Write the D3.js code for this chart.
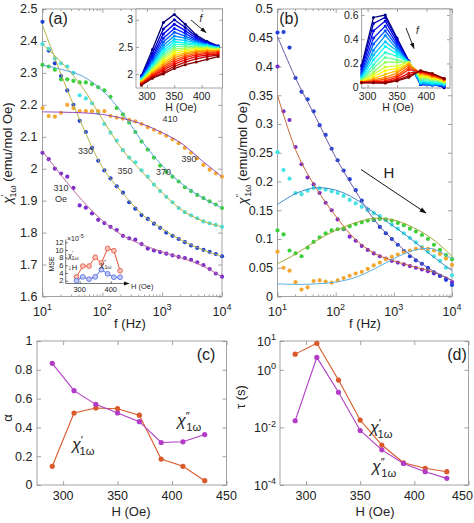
<!DOCTYPE html>
<html><head><meta charset="utf-8">
<script src="https://cdn.jsdelivr.net/npm/d3@7/dist/d3.min.js"></script>
<style>html,body{margin:0;padding:0;background:#fff}svg{display:block}</style>
</head><body>
<script>
// ================= DATA =================
const freqs = [10,12.7,16.1,20.4,25.9,32.9,41.8,53,67.2,85.3,108,137,174,221,281,356,452,574,728,924,1172,1487,1888,2395,3039,3857,4894,6210,7880,10000];
const fitFreqs = [10,21.5,46.4,100,215,464,1000,2154,4642,10000];
const seriesColors = ["#7a2ccc","#2040d8","#44e2e2","#3ccf3c","#f2a830"];

// panel (a): chi' vs f for H = 310,330,350,370,390 Oe
const re310 = [2.05,2.03,2.0,1.985,1.975,1.94,1.885,1.878,1.86,1.84,1.83,1.818,1.808,1.79,1.782,1.778,1.764,1.75,1.744,1.739,1.734,1.729,1.724,1.72,1.715,1.707,1.698,1.686,1.672,1.662];
const re330 = [2.46,2.37,2.33,2.29,2.245,2.2,2.15,2.115,2.065,2.025,1.995,1.97,1.945,1.925,1.895,1.875,1.855,1.843,1.828,1.815,1.8,1.79,1.78,1.77,1.76,1.752,1.746,1.74,1.733,1.726];
const re350 = [2.39,2.375,2.345,2.33,2.32,2.3,2.23,2.22,2.205,2.175,2.14,2.113,2.088,2.058,2.035,2.02,1.995,1.975,1.95,1.93,1.912,1.895,1.877,1.864,1.854,1.845,1.835,1.829,1.824,1.818];
const re370 = [2.325,2.32,2.31,2.28,2.28,2.275,2.27,2.27,2.265,2.255,2.245,2.225,2.19,2.17,2.145,2.115,2.085,2.06,2.035,2.01,1.99,1.975,1.96,1.942,1.93,1.918,1.908,1.898,1.888,1.877];
const re390 = [2.19,2.165,2.163,2.175,2.2,2.19,2.18,2.18,2.18,2.18,2.18,2.165,2.16,2.157,2.153,2.148,2.14,2.13,2.122,2.113,2.103,2.092,2.08,2.065,2.05,2.033,2.012,1.997,1.985,1.975];
const fitRe310 = [2.055,1.975,1.9,1.838,1.792,1.762,1.74,1.72,1.697,1.661];
const fitRe330 = [2.45,2.285,2.135,2.005,1.925,1.857,1.812,1.775,1.747,1.726];
const fitRe350 = [2.39,2.33,2.255,2.155,2.06,1.99,1.925,1.87,1.837,1.818];
const fitRe370 = [2.325,2.31,2.29,2.245,2.175,2.085,2.01,1.952,1.91,1.877];
const fitRe390 = [2.178,2.177,2.175,2.17,2.158,2.14,2.113,2.078,2.025,1.975];
const fitReColors = ["#b8679f","#b3b446","#b3b446","#58a9dc","#9a4cc0"];

// panel (b): chi'' vs f
const im310 = [0.40,0.322,0.307,0.26,0.23,0.207,0.195,0.18,0.163,0.15,0.134,0.117,0.104,0.097,0.088,0.081,0.075,0.07,0.066,0.062,0.059,0.056,0.053,0.05,0.047,0.044,0.04,0.036,0.031,0.025];
const im330 = [0.459,0.46,0.433,0.38,0.356,0.343,0.322,0.298,0.281,0.257,0.237,0.219,0.204,0.185,0.167,0.151,0.133,0.121,0.11,0.1,0.09,0.079,0.07,0.063,0.057,0.05,0.042,0.036,0.029,0.02];
const im350 = [0.251,0.22,0.205,0.18,0.178,0.184,0.189,0.188,0.186,0.183,0.18,0.175,0.168,0.162,0.156,0.15,0.145,0.14,0.133,0.125,0.118,0.11,0.102,0.094,0.086,0.078,0.07,0.062,0.05,0.037];
const im370 = [0.115,0.108,0.08,0.075,0.07,0.085,0.095,0.103,0.11,0.115,0.117,0.118,0.122,0.126,0.129,0.132,0.134,0.135,0.134,0.132,0.128,0.124,0.118,0.113,0.107,0.1,0.09,0.081,0.072,0.065];
const im390 = [0.078,0.05,0.045,0.025,0.012,0.016,0.027,0.028,0.026,0.024,0.028,0.032,0.036,0.04,0.043,0.048,0.054,0.059,0.065,0.069,0.073,0.077,0.08,0.083,0.084,0.083,0.08,0.074,0.066,0.055];
const fitIm310 = [0.35,0.25,0.188,0.14,0.1,0.075,0.062,0.052,0.043,0.028];
const fitIm330 = [0.452,0.375,0.31,0.242,0.185,0.133,0.097,0.068,0.045,0.028];
const fitIm350 = [0.16,0.18,0.189,0.185,0.17,0.145,0.122,0.097,0.07,0.045];
const fitIm370 = [0.057,0.075,0.097,0.115,0.128,0.136,0.133,0.12,0.1,0.07];
const fitIm390 = [0.022,0.021,0.022,0.025,0.033,0.048,0.066,0.08,0.083,0.065];
const fitImColors = ["#c8683a","#6a5aa8","#3a8cc8","#a0a838","#5ab0e8"];

// insets: chi vs H, one value per frequency line (low f -> high f)
const insetH = [290,310,330,350,370,390,410,430];
const insRe290 = [1.97,1.96,1.95,1.94,1.93,1.92,1.91,1.90,1.89,1.88,1.87,1.86,1.855,1.85,1.84,1.83,1.82,1.81,1.80,1.79];
const insRe310 = [2.45,2.38,2.32,2.28,2.24,2.21,2.18,2.15,2.13,2.11,2.09,2.07,2.05,2.03,2.01,1.99,1.97,1.95,1.935,1.92];
const insRe330 = [2.95,2.83,2.74,2.66,2.59,2.53,2.48,2.43,2.39,2.35,2.31,2.27,2.23,2.2,2.16,2.13,2.1,2.07,2.03,2.0];
const insRe350 = [3.1,3.0,2.92,2.84,2.77,2.7,2.64,2.59,2.54,2.5,2.46,2.42,2.38,2.34,2.3,2.26,2.22,2.18,2.14,2.1];
const insRe370 = [2.92,2.86,2.8,2.75,2.7,2.66,2.62,2.58,2.55,2.52,2.48,2.45,2.42,2.39,2.36,2.33,2.3,2.26,2.22,2.17];
const insRe390 = [2.72,2.69,2.66,2.63,2.61,2.59,2.57,2.55,2.53,2.51,2.49,2.47,2.45,2.43,2.41,2.38,2.35,2.32,2.28,2.22];
const insRe410 = [2.6,2.58,2.57,2.56,2.55,2.54,2.53,2.52,2.51,2.5,2.48,2.47,2.45,2.44,2.42,2.4,2.38,2.35,2.32,2.27];
const insRe430 = [2.52,2.51,2.51,2.5,2.5,2.49,2.49,2.48,2.47,2.47,2.46,2.45,2.44,2.43,2.42,2.41,2.39,2.37,2.35,2.32];
const insIm290 = [0.185,0.17,0.15,0.13,0.115,0.1,0.09,0.08,0.07,0.065,0.06,0.055,0.05,0.048,0.046,0.045,0.044,0.043,0.042,0.04];
const insIm310 = [0.58,0.53,0.47,0.41,0.36,0.31,0.27,0.23,0.19,0.16,0.13,0.11,0.09,0.075,0.065,0.055,0.05,0.045,0.042,0.04];
const insIm330 = [0.6,0.58,0.55,0.51,0.47,0.43,0.38,0.34,0.29,0.25,0.21,0.17,0.14,0.11,0.085,0.07,0.055,0.045,0.04,0.038];
const insIm350 = [0.41,0.4,0.38,0.36,0.34,0.32,0.3,0.28,0.26,0.23,0.21,0.18,0.16,0.14,0.12,0.1,0.085,0.07,0.06,0.055];
const insIm370 = [0.22,0.22,0.21,0.21,0.21,0.21,0.21,0.21,0.21,0.21,0.21,0.21,0.2,0.2,0.19,0.17,0.15,0.12,0.1,0.085];
const insIm390 = [0.045,0.03,0.025,0.025,0.03,0.035,0.04,0.05,0.06,0.07,0.08,0.09,0.1,0.11,0.12,0.125,0.13,0.135,0.14,0.14];
const insIm410 = [0.04,0.03,0.025,0.02,0.02,0.025,0.03,0.04,0.05,0.06,0.07,0.075,0.08,0.09,0.095,0.1,0.105,0.11,0.115,0.116];
const insIm430 = [0.0,0.005,0.01,0.012,0.015,0.02,0.025,0.03,0.035,0.04,0.045,0.05,0.055,0.06,0.065,0.07,0.072,0.074,0.075,0.075];

// MSE inset
const mseRe = [3.0,5.8,5.8,8.1,6.6,10.4,9.8,4.6];
const mseIm = [2.0,3.0,2.4,3.0,4.9,3.8,2.9,2.9];

// panels (c), (d)
const fieldsH = [290,310,330,350,370,390,410,430];
const alphaRe = [0.13,0.5,0.535,0.53,0.485,0.18,0.13,0.03];
const alphaIm = [0.845,0.655,0.56,0.5,0.44,0.295,0.3,0.35];
const tauRe = [3.5,8.3,0.44,0.018,0.00245,0.00059,0.00038,0.00029];
const tauIm = [0.017,2.7,0.166,0.0078,0.00166,0.00056,0.00029,0.00017];
const colRe = "#d9592a", colIm = "#b23cc6";

// tick labels
const aTicks = [1.6,1.7,1.8,1.9,2,2.1,2.2,2.3,2.4,2.5];
const aTickLabels = ["1.6","1.7","1.8","1.9","2","2.1","2.2","2.3","2.4","2.5"];
const bTicks = [0,0.05,0.1,0.15,0.2,0.25,0.3,0.35,0.4,0.45,0.5];
const bTickLabels = ["0","0.05","0.1","0.15","0.2","0.25","0.3","0.35","0.4","0.45","0.5"];
const fTicks = [10,100,1000,10000], fExps = ["1","2","3","4"];
const hTicks = [300,350,400,450], hTickLabels = ["300","350","400","450"];
const cTicks = [0,0.2,0.4,0.6,0.8,1], cTickLabels = ["0","0.2","0.4","0.6","0.8","1"];
const dTicks = [1e-4,1e-2,1,10], dExps = ["-4","-2","0","1"];
const insHTicks = [300,350,400], insHLabels = ["300","350","400"];
const insATicks = [2,2.5,3], insALabels = ["2","2.5","3"];
const insBTicks = [0,0.2,0.4,0.6], insBLabels = ["0","0.2","0.4","0.6"];
const mseTicks = [2,4,6,8,10,12], mseTickLabels = ["2","4","6","8","10","12"];
const mseHTicks = [300,400], mseHLabels = ["300","400"];

// ================= DRAWING =================
const svg = d3.select("body").append("svg").attr("width",474).attr("height",523)
  .attr("font-family","'Liberation Sans', Arial, Helvetica, sans-serif");
const AX = "#8c8c8c", TX = "#222";
const defs = svg.append("defs");
defs.append("marker").attr("id","ah").attr("viewBox","0 0 10 10").attr("refX",9).attr("refY",5)
  .attr("markerWidth",7).attr("markerHeight",7).attr("orient","auto")
  .append("path").attr("d","M0,1.5 L10,5 L0,8.5 z").attr("fill","#111");

function frame(x, y, o) {
  const g = svg.append("g");
  const [x0,x1] = x.range(), [y0,y1] = y.range();
  const tl = o.tl || 4;
  if (o.bg) g.append("rect").attr("x",x0).attr("y",y1).attr("width",x1-x0).attr("height",y0-y1).attr("fill","#fff");
  const put = (axis, tr) => g.append("g").attr("transform", tr).call(axis).call(s => {
    s.select(".domain").remove();
    s.selectAll(".tick text").remove();
    s.selectAll(".tick line").attr("stroke", AX).attr("stroke-width", 0.8);
  });
  put(d3.axisBottom(x).tickValues(o.xt).tickSize(-tl), `translate(0,${y0})`);
  put(d3.axisTop(x).tickValues(o.xt).tickSize(-tl), `translate(0,${y1})`);
  put(d3.axisLeft(y).tickValues(o.yt).tickSize(-tl), `translate(${x0},0)`);
  put(d3.axisRight(y).tickValues(o.yt).tickSize(-tl), `translate(${x1},0)`);
  if (o.xm) {
    put(d3.axisBottom(x).tickValues(o.xm).tickSize(-tl/2), `translate(0,${y0})`);
    put(d3.axisTop(x).tickValues(o.xm).tickSize(-tl/2), `translate(0,${y1})`);
  }
  g.append("rect").attr("x",x0).attr("y",y1).attr("width",x1-x0).attr("height",y0-y1)
    .attr("fill","none").attr("stroke",AX).attr("stroke-width",0.8);
}
function yLabels(y, vals, labels, x, size) {
  svg.append("g").selectAll("text").data(vals).join("text")
    .attr("x", x).attr("y", d => y(d)).attr("dy","0.35em").attr("text-anchor","end")
    .attr("font-size", size).attr("fill", TX).text((d,i) => labels[i]);
}
function xLabels(x, vals, labels, yb, size) {
  svg.append("g").selectAll("text").data(vals).join("text")
    .attr("x", d => Math.min(x(d), 462.5)).attr("y", yb).attr("text-anchor","middle")
    .attr("font-size", size).attr("fill", TX).text((d,i) => labels[i]);
}
function powText(t, e, size) {
  t.append("tspan").text("10");
  t.append("tspan").attr("font-size", size*0.72).attr("dy", -size*0.45).text(e);
}
function xPow(x, vals, exps, yb, size) {
  vals.forEach((v,i) => {
    const t = svg.append("text").attr("x", x(v)).attr("y", yb).attr("text-anchor","middle")
      .attr("font-size", size).attr("fill", TX);
    powText(t, exps[i], size);
  });
}
function yPow(y, vals, exps, xr, size) {
  vals.forEach((v,i) => {
    const t = svg.append("text").attr("x", xr).attr("y", y(v) + size*0.38).attr("text-anchor","end")
      .attr("font-size", size).attr("fill", TX);
    powText(t, exps[i], size);
  });
}
function chi(t, primes, size, tail) {
  const s = size*0.7;
  t.append("tspan").attr("font-style","italic").text("χ");
  t.append("tspan").attr("font-size", s).attr("dy", -size*0.38).text(primes);
  t.append("tspan").attr("font-size", s).attr("dx", -s*0.3*primes.length).attr("dy", size*0.68).text("1ω");
  if (tail) t.append("tspan").attr("dy", -size*0.3).text(tail);
}
function dots(x, y, xs, ys, color, r) {
  svg.append("g").selectAll("circle").data(xs.map((v,i) => [v, ys[i]])).join("circle")
    .attr("cx", d => x(d[0])).attr("cy", d => y(d[1])).attr("r", r).attr("fill", color);
}
function path(x, y, xs, ys, color, w, curve) {
  svg.append("path").datum(xs.map((v,i) => [v, ys[i]]))
    .attr("d", d3.line().x(d => x(d[0])).y(d => y(d[1])).curve(curve || d3.curveLinear))
    .attr("fill","none").attr("stroke", color).attr("stroke-width", w);
}
function txt(x, y, s, size, o) {
  o = o || {};
  return svg.append("text").attr("x", x).attr("y", y).attr("font-size", size)
    .attr("fill", o.fill || TX).attr("text-anchor", o.anchor || "start")
    .attr("font-style", o.italic ? "italic" : null).text(s);
}
const jet = t => {
  const c = v => Math.max(0, Math.min(1, v));
  return d3.rgb(255*c(1.5-Math.abs(4*t-3)), 255*c(1.5-Math.abs(4*t-2)), 255*c(1.5-Math.abs(4*t-1))).formatHex();
};

// ---------- panel (a) ----------
const xa = d3.scaleLog().domain([10,1e4]).range([42.5,222]);
const ya = d3.scaleLinear().domain([1.6,2.5]).range([296.5,9]);
const minorF = xa.ticks().filter(v => !fTicks.includes(v));
frame(xa, ya, {xt: fTicks, yt: aTicks, xm: minorF});
yLabels(ya, aTicks, aTickLabels, 37.5, 12.5);
xPow(xa, fTicks, fExps, 315.5, 12.5);
[re310, re330, re350, re370, re390].forEach((s,i) => dots(xa, ya, freqs, s, seriesColors[i], 2.1));
[fitRe310, fitRe330, fitRe350, fitRe370, fitRe390].forEach((s,i) => path(xa, ya, fitFreqs, s, fitReColors[i], 1, d3.curveCatmullRom));
txt(130, 328, "f (Hz)", 13, {anchor:"middle"});
{ const t = svg.append("text").attr("transform","translate(12,153) rotate(-90)").attr("text-anchor","middle")
    .attr("font-size",13).attr("fill",TX); chi(t, "′", 13, " (emu/mol Oe)"); }
txt(58, 23.5, "(a)", 16, {anchor:"middle"});
txt(170, 121.5, "410", 9, {anchor:"middle", fill:"#333"});
txt(189, 161.5, "390", 9, {anchor:"middle", fill:"#333"});
txt(163.5, 175, "370", 9, {anchor:"middle", fill:"#333"});
txt(125, 173.5, "350", 9, {anchor:"middle", fill:"#333"});
txt(85.5, 153.5, "330", 9, {anchor:"middle", fill:"#333"});
txt(61, 190.5, "310", 9, {anchor:"middle", fill:"#333"});
txt(61, 201.5, "Oe", 9, {anchor:"middle", fill:"#333"});

// inset (a)
const xia = d3.scaleLinear().domain([280,438]).range([136,222.5]);
const yia = d3.scaleLinear().domain([1.74,3.2]).range([88,9]);
frame(xia, yia, {xt: insHTicks, yt: insATicks, tl: 3, bg: true});
const insReCols = [insRe290, insRe310, insRe330, insRe350, insRe370, insRe390, insRe410, insRe430];
const nLinesA = insRe290.length;
for (let k = 0; k < nLinesA; k++) {
  const vals = insReCols.map(c => c[k]);
  path(xia, yia, insetH, vals, jet(k/(nLinesA-1)), 1.3);
  dots(xia, yia, insetH, vals, jet(k/(nLinesA-1)), 1.5);
}
yLabels(yia, insATicks, insALabels, 133, 10.5);
xLabels(xia, insHTicks, insHLabels, 100, 10.5);
txt(181, 111, "H (Oe)", 10.5, {anchor:"middle"});
svg.append("line").attr("x1",191).attr("y1",20).attr("x2",206).attr("y2",32.5)
  .attr("stroke","#111").attr("stroke-width",0.9).attr("marker-end","url(#ah)");
txt(201, 22, "f", 10, {anchor:"middle", italic:true});

// MSE inset
const xm = d3.scaleLinear().domain([255,450]).range([65.7,126.3]);
const ym = d3.scaleLinear().domain([2,12]).range([280.7,242.3]);
{
  const g = svg.append("g");
  g.append("line").attr("x1",65.7).attr("y1",283.5).attr("x2",65.7).attr("y2",239.5).attr("stroke","#555").attr("stroke-width",0.8);
  g.append("line").attr("x1",65.7).attr("y1",283.5).attr("x2",129).attr("y2",283.5).attr("stroke","#555").attr("stroke-width",0.8).attr("marker-end","url(#ah)");
  g.append("g").attr("transform","translate(65.7,0)").call(d3.axisLeft(ym).tickValues(mseTicks).tickSize(-2).tickFormat(""))
    .call(s => { s.select(".domain").remove(); s.selectAll("line").attr("stroke","#555"); });
  g.append("g").attr("transform","translate(0,283.5)").call(d3.axisBottom(xm).tickValues(mseHTicks).tickSize(-2).tickFormat(""))
    .call(s => { s.select(".domain").remove(); s.selectAll("line").attr("stroke","#555"); });
}
yLabels(ym, mseTicks, mseTickLabels, 63.5, 7.5);
xLabels(xm, mseHTicks, mseHLabels, 291.5, 7.5);
txt(131, 288.5, "H (Oe)", 7.5);
{ const t = txt(67, 240.5, "×10", 7); t.append("tspan").attr("font-size",5.5).attr("dy",-3).text("-5"); }
svg.append("text").attr("transform","translate(54,264) rotate(-90)").attr("text-anchor","middle")
  .attr("font-size",7).attr("fill",TX).text("MSE");
path(xm, ym, insetH, mseRe, "#e5533d", 1);
path(xm, ym, insetH, mseIm, "#4a62e6", 1);
svg.append("g").selectAll("circle").data(insetH).join("circle").attr("cx", d => xm(d)).attr("cy", (d,i) => ym(mseRe[i]))
  .attr("r",2.4).attr("fill","#f6c1b6").attr("stroke","#e5533d").attr("stroke-width",0.8);
svg.append("g").selectAll("circle").data(insetH).join("circle").attr("cx", d => xm(d)).attr("cy", (d,i) => ym(mseIm[i]))
  .attr("r",2.4).attr("fill","#c3cbf6").attr("stroke","#4a62e6").attr("stroke-width",0.8);
{ const t = svg.append("text").attr("x",68).attr("y",258).attr("font-size",7.5).attr("fill",TX); chi(t, "′", 7.5); }
txt(68, 269.5, "↓H", 7.5);
{ const t = svg.append("text").attr("x",100).attr("y",266.5).attr("font-size",7.5).attr("fill",TX); chi(t, "″", 7.5); }

// ---------- panel (b) ----------
const xb = d3.scaleLog().domain([10,1e4]).range([277.5,452]);
const yb = d3.scaleLinear().domain([0,0.5]).range([296.5,9]);
frame(xb, yb, {xt: fTicks, yt: bTicks, xm: minorF});
yLabels(yb, bTicks, bTickLabels, 273, 12.5);
xPow(xb, fTicks, fExps, 315.5, 12.5);
[im310, im330, im350, im370, im390].forEach((s,i) => dots(xb, yb, freqs, s, seriesColors[i], 2.1));
[fitIm310, fitIm330, fitIm350, fitIm370, fitIm390].forEach((s,i) => path(xb, yb, fitFreqs, s, fitImColors[i], 1, d3.curveCatmullRom));
txt(365, 328, "f (Hz)", 13, {anchor:"middle"});
{ const t = svg.append("text").attr("transform","translate(247,153) rotate(-90)").attr("text-anchor","middle")
    .attr("font-size",13).attr("fill",TX); chi(t, "″", 13, " (emu/mol Oe)"); }
txt(289, 23.5, "(b)", 16, {anchor:"middle"});
svg.append("line").attr("x1",361).attr("y1",169.5).attr("x2",426).attr("y2",213)
  .attr("stroke","#111").attr("stroke-width",1).attr("marker-end","url(#ah)");
txt(389, 178, "H", 15, {anchor:"middle"});

// inset (b)
const xib = d3.scaleLinear().domain([290,440]).range([361.7,450]);
const yib = d3.scaleLinear().domain([-0.003,0.65]).range([88,9]);
frame(xib, yib, {xt: insHTicks, yt: insBTicks, tl: 3, bg: true});
const insImCols = [insIm290, insIm310, insIm330, insIm350, insIm370, insIm390, insIm410, insIm430];
const nLinesB = insIm290.length;
for (let k = 0; k < nLinesB; k++) {
  const vals = insImCols.map(c => c[k]);
  path(xib, yib, insetH, vals, jet(k/(nLinesB-1)), 1.3);
  dots(xib, yib, insetH, vals, jet(k/(nLinesB-1)), 1.5);
}
yLabels(yib, insBTicks, insBLabels, 358.5, 10.5);
xLabels(xib, insHTicks, insHLabels, 100, 10.5);
txt(398, 111, "H (Oe)", 10.5, {anchor:"middle"});
svg.append("line").attr("x1",406).attr("y1",28).attr("x2",414).attr("y2",48.5)
  .attr("stroke","#111").attr("stroke-width",0.9).attr("marker-end","url(#ah)");
txt(417.5, 34, "f", 10, {anchor:"middle", italic:true});

// ---------- panel (c) ----------
const xc = d3.scaleLinear().domain([276,450]).range([37,226.5]);
const yc = d3.scaleLinear().domain([0,1]).range([485,341]);
frame(xc, yc, {xt: hTicks, yt: cTicks});
yLabels(yc, cTicks, cTickLabels, 32.5, 12.5);
xLabels(xc, hTicks, hTickLabels, 500, 12.5);
path(xc, yc, fieldsH, alphaRe, colRe, 1.1);
path(xc, yc, fieldsH, alphaIm, colIm, 1.1);
dots(xc, yc, fieldsH, alphaRe, colRe, 2.6);
dots(xc, yc, fieldsH, alphaIm, colIm, 2.6);
txt(131, 515.5, "H (Oe)", 13, {anchor:"middle"});
svg.append("text").attr("transform","translate(11.5,418) rotate(-90)").attr("text-anchor","middle")
  .attr("font-size",13).attr("fill",TX).text("α");
txt(206, 359.5, "(c)", 16, {anchor:"middle"});
{ const t = svg.append("text").attr("x",177).attr("y",426).attr("font-size",16).attr("fill",TX); chi(t, "″", 16); }
{ const t = svg.append("text").attr("x",72).attr("y",450).attr("font-size",16).attr("fill",TX); chi(t, "′", 16); }

// ---------- panel (d) ----------
const xd = d3.scaleLinear().domain([276,450]).range([280,468.5]);
const yd = d3.scaleLog().domain([1e-4,10]).range([485,341]);
frame(xd, yd, {xt: hTicks, yt: dTicks});
yPow(yd, dTicks, dExps, 276, 12.5);
xLabels(xd, hTicks, hTickLabels, 500, 12.5);
path(xd, yd, fieldsH, tauRe, colRe, 1.1);
path(xd, yd, fieldsH, tauIm, colIm, 1.1);
dots(xd, yd, fieldsH, tauRe, colRe, 2.6);
dots(xd, yd, fieldsH, tauIm, colIm, 2.6);
txt(375, 515.5, "H (Oe)", 13, {anchor:"middle"});
svg.append("text").attr("transform","translate(245,397) rotate(-90)").attr("text-anchor","middle")
  .attr("font-size",13).attr("fill",TX).text("τ (s)");
txt(457, 359.5, "(d)", 16, {anchor:"middle"});
{ const t = svg.append("text").attr("x",370).attr("y",433).attr("font-size",16).attr("fill",TX); chi(t, "′", 16); }
{ const t = svg.append("text").attr("x",372).attr("y",472).attr("font-size",16).attr("fill",TX); chi(t, "″", 16); }
</script>
</body></html>
